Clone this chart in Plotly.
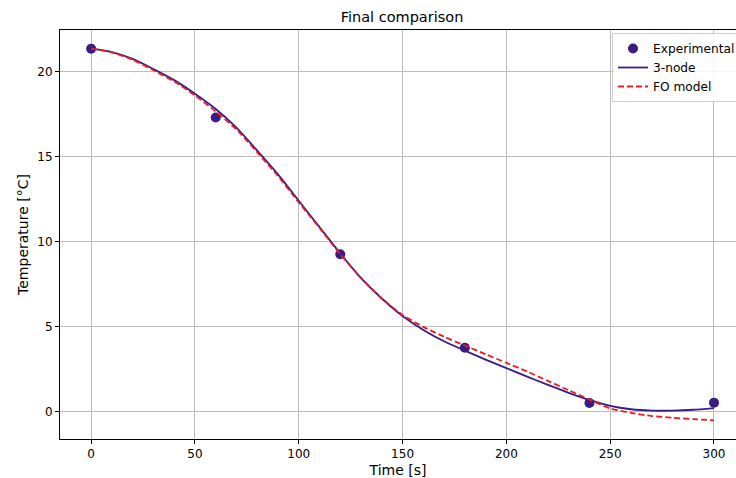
import plotly.graph_objects as go

# Experimental measurements
exp_time = [0, 60, 120, 180, 240, 300]
exp_temp = [21.35, 17.3, 9.25, 3.75, 0.5, 0.52]

# Model curves
model_time = [0, 10, 20, 30, 40, 50, 60, 70, 80, 90, 100, 110, 120, 130, 140, 150,
              160, 170, 180, 190, 200, 210, 220, 230, 240, 250, 260, 270, 280, 290, 300]
node3_temp = [21.35, 21.15, 20.75, 20.15, 19.5, 18.7, 17.8, 16.7, 15.35, 13.95, 12.4,
              10.85, 9.3, 7.85, 6.65, 5.62, 4.8, 4.13, 3.58, 3.05, 2.55, 2.05, 1.57,
              1.1, 0.68, 0.33, 0.13, 0.05, 0.05, 0.1, 0.2]
fo_temp = [21.35, 21.13, 20.7, 20.08, 19.42, 18.6, 17.65, 16.6, 15.25, 13.85, 12.3,
           10.8, 9.25, 7.85, 6.65, 5.68, 4.98, 4.4, 3.88, 3.37, 2.86, 2.35, 1.8,
           1.25, 0.7, 0.18, -0.08, -0.27, -0.37, -0.45, -0.52]

xticks = [0, 50, 100, 150, 200, 250, 300]
yticks = [0, 5, 10, 15, 20]

PURPLE = "#3b1c84"
RED = "#ec1c24"

fig = go.Figure()
fig.add_trace(go.Scatter(x=exp_time, y=exp_temp, mode="markers", name="Experimental",
                         marker=dict(color=PURPLE, size=10)))
fig.add_trace(go.Scatter(x=model_time, y=node3_temp, mode="lines", name="3-node",
                         line=dict(color=PURPLE, width=1.8, shape="spline", smoothing=0.6)))
fig.add_trace(go.Scatter(x=model_time, y=fo_temp, mode="lines", name="FO model",
                         line=dict(color=RED, width=1.8, dash="6px,3px", shape="spline", smoothing=0.6)))

font = "DejaVu Sans"
fig.update_layout(
    width=736, height=478,
    margin=dict(l=60, r=0, t=30, b=39, autoexpand=False),
    paper_bgcolor="white", plot_bgcolor="white",
    font=dict(family=font, size=12, color="black"),
    title=dict(text="Final comparison", x=402 / 736, xanchor="center",
               y=1 - 17 / 478, yanchor="middle", font=dict(size=14.5, family=font)),
    showlegend=True,
    legend=dict(x=(612 - 60) / 676, y=1 - 3 / 409, xanchor="left", yanchor="top",
                bgcolor="rgba(255,255,255,0.85)", bordercolor="#d0d0d0", borderwidth=1,
                font=dict(size=12.2, family=font), tracegroupgap=0, itemwidth=30),
)
fig.update_xaxes(range=[-15, 310.6], tickvals=xticks, ticks="outside", ticklen=4,
                 tickcolor="black", showline=True, linecolor="black", linewidth=1,
                 mirror=True, showgrid=True, gridcolor="#bdbdbd", gridwidth=0.8,
                 zeroline=False, title=dict(text="Time [s]", standoff=4),
                 tickfont=dict(size=12))
fig.update_yaxes(range=[-1.62, 22.45], tickvals=yticks, ticks="outside", ticklen=4,
                 tickcolor="black", showline=True, linecolor="black", linewidth=1,
                 mirror=False, showgrid=True, gridcolor="#bdbdbd", gridwidth=0.8,
                 zeroline=False, title=dict(text="Temperature [°C]", standoff=5),
                 tickfont=dict(size=12))

fig.write_html("out.html", config={"displayModeBar": False},
               post_script="document.body.style.margin='0';document.body.style.overflow='hidden';")
